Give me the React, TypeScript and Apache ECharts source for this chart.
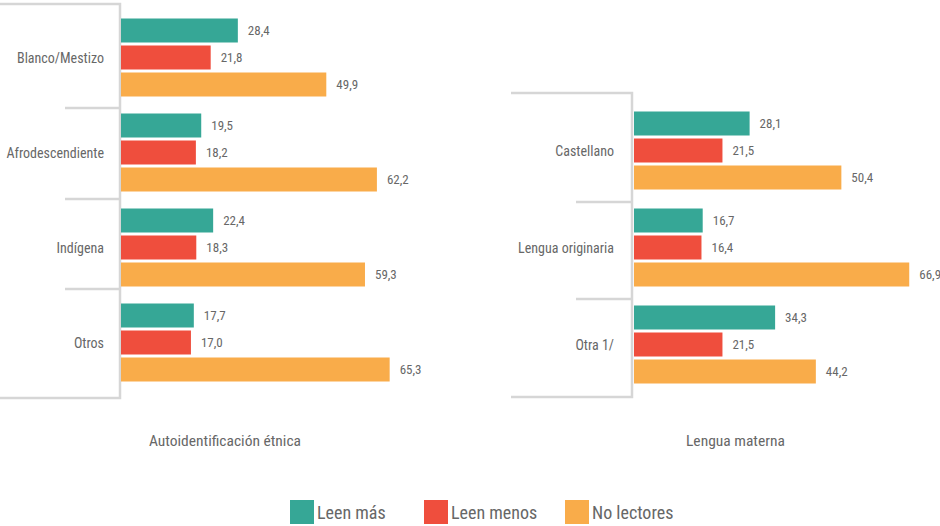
import React, { useEffect, useRef } from "react";
import * as echarts from "echarts";

const seriesNames = ["Leen más", "Leen menos", "No lectores"];
const colors = ["#36A796", "#EF4E3D", "#F9AC4A"];

const etnicaCategories = ["Blanco/Mestizo", "Afrodescendiente", "Indígena", "Otros"];
const etnicaLeenMas = [28.4, 19.5, 22.4, 17.7];
const etnicaLeenMenos = [21.8, 18.2, 18.3, 17.0];
const etnicaNoLectores = [49.9, 62.2, 59.3, 65.3];

const lenguaCategories = ["Castellano", "Lengua originaria", "Otra 1/"];
const lenguaLeenMas = [28.1, 16.7, 34.3];
const lenguaLeenMenos = [21.5, 16.4, 21.5];
const lenguaNoLectores = [50.4, 66.9, 44.2];

const titles = ["Autoidentificación étnica", "Lengua materna"];

const FONT = "'Roboto Condensed', 'Liberation Sans Narrow', 'DejaVu Sans Condensed', 'Arial Narrow', Roboto, sans-serif";
const TEXT = "#676767";
const LINE = "#d6d6d6";
const legendLefts = [290, 424, 565];

export default function App() {
  const ref = useRef<HTMLDivElement>(null);
  useEffect(() => {
    if (!ref.current) return;
    const chart = echarts.init(ref.current, undefined, { renderer: "svg" });
    const label = {
      show: true,
      position: "right" as const,
      distance: 10,
      color: TEXT,
      fontSize: 13,
      fontFamily: FONT,
      formatter: (p: any) => Number(p.value).toFixed(1).replace(".", ","),
    };
    const mk = (name: string, data: number[], idx: number, color: string) => ({
      name,
      type: "bar",
      xAxisIndex: idx,
      yAxisIndex: idx,
      data,
      barWidth: 24,
      barGap: "12%",
      itemStyle: { color },
      label,
    });
    const lineStyle = { stroke: LINE, lineWidth: 2.5, fill: null };
    chart.setOption({
      animation: false,
      textStyle: { fontFamily: FONT },
      grid: [
        { left: 121, top: 10, width: 288, height: 380, outerBoundsMode: "none", containLabel: false },
        { left: 634, top: 102, width: 288, height: 291, outerBoundsMode: "none", containLabel: false },
      ],
      xAxis: [
        { gridIndex: 0, type: "value", min: 0, max: 70, show: false },
        { gridIndex: 1, type: "value", min: 0, max: 70, show: false },
      ],
      yAxis: [
        {
          gridIndex: 0,
          type: "category",
          inverse: true,
          data: etnicaCategories,
          axisLine: { show: false },
          axisTick: { show: false },
          axisLabel: { margin: 17, color: TEXT, fontSize: 14, fontFamily: FONT },
        },
        {
          gridIndex: 1,
          type: "category",
          inverse: true,
          data: lenguaCategories,
          axisLine: { show: false },
          axisTick: { show: false },
          axisLabel: { margin: 20, color: TEXT, fontSize: 14, fontFamily: FONT },
        },
      ],
      legend: seriesNames.map((n, i) => ({
        data: [n],
        left: legendLefts[i],
        top: 500,
        itemWidth: 24,
        itemHeight: 24,
        icon: "rect",
        padding: 0,
        textStyle: { color: TEXT, fontSize: 18, fontFamily: FONT, padding: [0, 0, 0, -2] },
      })),
      title: [
        {
          text: titles[0],
          left: 149,
          top: 433,
          padding: 0,
          textStyle: { color: TEXT, fontSize: 15.5, fontWeight: "normal", fontFamily: FONT },
        },
        {
          text: titles[1],
          left: 686,
          top: 433,
          padding: 0,
          textStyle: { color: TEXT, fontSize: 15.5, fontWeight: "normal", fontFamily: FONT },
        },
      ],
      graphic: [
        { type: "polyline", shape: { points: [[0, 4], [120, 4], [120, 398], [0, 398]] }, style: lineStyle, silent: true },
        { type: "line", shape: { x1: 65, y1: 108, x2: 119, y2: 108 }, style: lineStyle, silent: true },
        { type: "line", shape: { x1: 65, y1: 199, x2: 119, y2: 199 }, style: lineStyle, silent: true },
        { type: "line", shape: { x1: 65, y1: 289, x2: 119, y2: 289 }, style: lineStyle, silent: true },
        { type: "polyline", shape: { points: [[511, 93], [632, 93], [632, 397], [511, 397]] }, style: lineStyle, silent: true },
        { type: "line", shape: { x1: 576, y1: 202, x2: 631, y2: 202 }, style: lineStyle, silent: true },
        { type: "line", shape: { x1: 576, y1: 299, x2: 631, y2: 299 }, style: lineStyle, silent: true },
      ],
      series: [
        mk(seriesNames[0], etnicaLeenMas, 0, colors[0]),
        mk(seriesNames[1], etnicaLeenMenos, 0, colors[1]),
        mk(seriesNames[2], etnicaNoLectores, 0, colors[2]),
        mk(seriesNames[0], lenguaLeenMas, 1, colors[0]),
        mk(seriesNames[1], lenguaLeenMenos, 1, colors[1]),
        mk(seriesNames[2], lenguaNoLectores, 1, colors[2]),
      ],
    });
    return () => chart.dispose();
  }, []);
  return (
    <div
      ref={ref}
      style={{ position: "fixed", left: 0, top: 0, width: 940, height: 526, background: "#fff" }}
    />
  );
}
